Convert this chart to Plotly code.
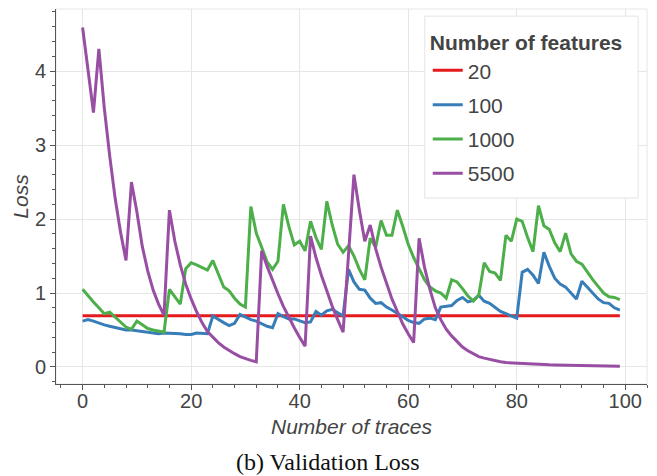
import plotly.graph_objects as go

# Validation loss per number of traces, one series per feature count
traces = list(range(100))

loss_20 = [0.693] * 100

loss_100 = [
    0.62, 0.64, 0.62, 0.59, 0.57, 0.55, 0.53, 0.52, 0.50, 0.50,
    0.49, 0.48, 0.47, 0.46, 0.45, 0.46, 0.46, 0.45, 0.45, 0.44,
    0.44, 0.46, 0.46, 0.45, 0.69, 0.64, 0.60, 0.56, 0.59, 0.71,
    0.67, 0.64, 0.62, 0.58, 0.55, 0.53, 0.72, 0.68, 0.65, 0.65,
    0.62, 0.60, 0.61, 0.75, 0.70, 0.76, 0.78, 0.74, 0.69, 1.32,
    1.15, 1.05, 1.04, 0.93, 0.86, 0.87, 0.81, 0.77, 0.73, 0.68,
    0.63, 0.60, 0.59, 0.65, 0.66, 0.64, 0.81, 0.82, 0.83, 0.90,
    0.94, 0.88, 0.90, 0.97, 0.89, 0.86, 0.80, 0.75, 0.72, 0.69,
    0.66, 1.28, 1.32, 1.24, 1.13, 1.55, 1.36, 1.20, 1.12, 1.08,
    1.00, 0.92, 1.16, 1.08, 1.01, 0.92, 0.87, 0.86, 0.80, 0.77,
]

loss_1000 = [
    1.05, 0.96, 0.88, 0.80, 0.72, 0.74, 0.67, 0.60, 0.54, 0.51,
    0.62, 0.57, 0.52, 0.50, 0.48, 0.47, 1.05, 0.95, 0.85, 1.33,
    1.41, 1.38, 1.35, 1.31, 1.44, 1.25, 1.08, 1.03, 0.93, 0.85,
    0.81, 2.17, 1.81, 1.62, 1.42, 1.32, 1.43, 2.20, 1.90, 1.65,
    1.70, 1.57, 1.97, 1.75, 1.59, 2.24, 1.92, 1.66, 1.55, 1.64,
    1.50, 1.32, 1.18, 1.74, 1.62, 1.98, 1.78, 1.78, 2.12, 1.90,
    1.66, 1.48, 1.32, 1.18, 1.08, 1.03, 1.00, 0.93, 1.18, 1.15,
    1.06, 0.96, 0.89, 0.97, 1.41, 1.29, 1.27, 1.17, 1.78, 1.70,
    2.00, 1.97, 1.75, 1.56, 2.18, 1.91, 1.86, 1.68, 1.56, 1.81,
    1.53, 1.43, 1.39, 1.28, 1.18, 1.09, 1.00, 0.95, 0.94, 0.91,
]

loss_5500 = [
    4.59, 4.05, 3.44, 4.30, 3.50, 2.85, 2.28, 1.82, 1.44, 2.50,
    2.10, 1.63, 1.30, 1.04, 0.85, 0.70, 2.12, 1.70, 1.38, 1.12,
    0.92, 0.75, 0.60, 0.48, 0.40, 0.33, 0.27, 0.22, 0.18, 0.14,
    0.11, 0.09, 0.07, 1.57, 1.36, 1.17, 0.99, 0.82, 0.67, 0.53,
    0.40, 0.28, 1.77, 1.48, 1.24, 1.02, 0.82, 0.64, 0.47, 1.52,
    2.60, 2.12, 1.70, 1.92, 1.60, 1.35, 1.12, 0.92, 0.75, 0.58,
    0.45, 0.33, 1.74, 1.35, 1.05, 0.80, 0.64, 0.51, 0.42, 0.34,
    0.27, 0.22, 0.18, 0.14, 0.12, 0.10, 0.08, 0.07, 0.06, 0.055,
    0.05, 0.045, 0.04, 0.038, 0.035, 0.032, 0.03, 0.028, 0.026, 0.025,
    0.022, 0.02, 0.018, 0.016, 0.015, 0.013, 0.012, 0.011, 0.01, 0.01,
]

series_names = ["20", "100", "1000", "5500"]
series_values = [loss_20, loss_100, loss_1000, loss_5500]
series_colors = ["#e41a1c", "#377eb8", "#4daf4a", "#984ea3"]

x_ticks = [0, 20, 40, 60, 80, 100]
y_ticks = [0, 1, 2, 3, 4]

FONT = "Liberation Sans, Helvetica, Arial, sans-serif"
TEXT = "#444444"
GRID = "#e6e6e6"
AXIS = "#555555"

fig = go.Figure()
for name, vals, col in zip(series_names, series_values, series_colors):
    fig.add_trace(go.Scatter(
        x=traces, y=vals, mode="lines", name=name, legendgroup=name,
        line=dict(color=col, width=3),
    ))

axis_common = dict(
    showline=True, linecolor=AXIS, linewidth=1,
    ticks="outside", ticklen=5, tickcolor=AXIS, tickwidth=1,
    showgrid=True, gridcolor=GRID, gridwidth=1,
    zeroline=False,
    tickfont=dict(family=FONT, size=20, color=TEXT),
)

fig.update_layout(
    width=657, height=476,
    margin=dict(l=56, r=10, t=9, b=92),
    paper_bgcolor="white", plot_bgcolor="white",
    font=dict(family=FONT, color=TEXT),
    xaxis=dict(
        **axis_common,
        range=[-4.9, 104], tickvals=x_ticks,
        ticklabelstandoff=-6,
        minor=dict(dtick=4, tick0=0, ticks="outside", ticklen=3,
                   tickcolor=AXIS, showgrid=False),
        title=dict(text="<i>Number of traces</i>",
                   font=dict(family=FONT, size=21, color=TEXT), standoff=8),
    ),
    yaxis=dict(
        **axis_common,
        range=[-0.23, 4.84], tickvals=y_ticks,
        minor=dict(dtick=0.2, tick0=0, ticks="outside", ticklen=3,
                   tickcolor=AXIS, showgrid=False),
        title=dict(text="<i>Loss</i>",
                   font=dict(family=FONT, size=21, color=TEXT), standoff=0),
    ),
    legend=dict(
        x=0.629, y=0.963, xanchor="left", yanchor="top",
        bgcolor="rgba(0,0,0,0)", borderwidth=0,
        font=dict(family=FONT, size=21, color=TEXT),
        title=dict(text="<b>Number of features</b>",
                   font=dict(family=FONT, size=21, color=TEXT)),
        traceorder="grouped", tracegroupgap=4,
        itemwidth=30,
    ),
    shapes=[
        # light outline around the plotting area
        dict(type="rect", xref="paper", yref="paper", x0=0, y0=0, x1=1, y1=1,
             line=dict(color="#e6e6e6", width=1), layer="below"),
        # legend panel
        dict(type="rect", xref="paper", yref="paper",
             x0=0.624, x1=0.985, y0=0.496, y1=0.981,
             fillcolor="rgba(255,255,255,0.95)",
             line=dict(color="#e3e3e3", width=1), layer="above"),
    ],
    annotations=[dict(
        text="(b) Validation Loss", xref="paper", yref="paper",
        x=0.46, y=-0.208, xanchor="center", yanchor="middle", showarrow=False,
        font=dict(family="Liberation Serif, DejaVu Serif, serif", size=24, color="#111111"),
    )],
)

fig.write_html("out.html")
